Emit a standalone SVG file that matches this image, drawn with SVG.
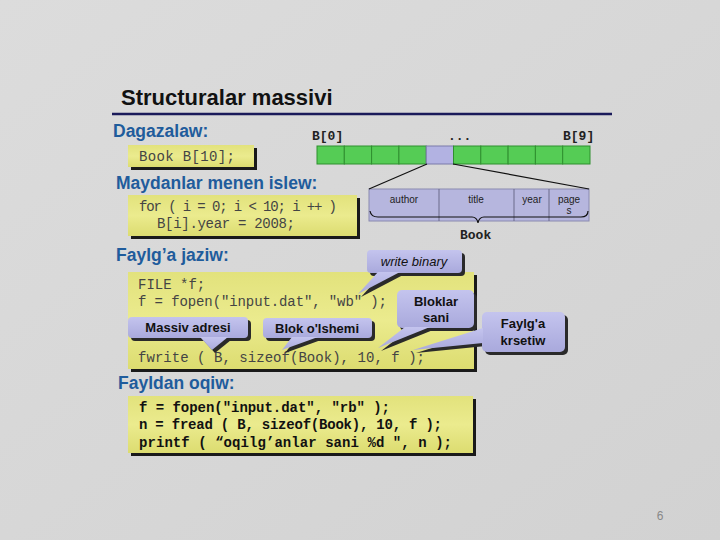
<svg xmlns="http://www.w3.org/2000/svg" width="720" height="540" viewBox="0 0 720 540">
<defs>
<linearGradient id="bg" x1="0" y1="0" x2="1" y2="1"><stop offset="0" stop-color="#dcdcdc"/><stop offset="1" stop-color="#d2d2d2"/></linearGradient>
<linearGradient id="yel" x1="0" y1="0" x2="0" y2="1"><stop offset="0" stop-color="#e2e27c"/><stop offset="0.5" stop-color="#ebeb8e"/><stop offset="1" stop-color="#dcdc70"/></linearGradient>
<linearGradient id="lav" x1="0" y1="0" x2="0" y2="1"><stop offset="0" stop-color="#c4c4ee"/><stop offset="1" stop-color="#a9a9dc"/></linearGradient>
<style>
.hd{font-family:"Liberation Sans",Arial,sans-serif;font-weight:bold;font-size:17.5px;fill:#1f5c9c}
.code{font-family:"Liberation Mono","Courier New",monospace;font-size:14px;fill:#444}
.codeb{font-family:"Liberation Mono","Courier New",monospace;font-size:14px;font-weight:bold;fill:#111}
.lbl{font-family:"Liberation Mono","Courier New",monospace;font-size:13px;font-weight:bold;fill:#222}
.fld{font-family:"Liberation Sans",Arial,sans-serif;font-size:10px;fill:#222;text-anchor:middle}
.co{font-family:"Liberation Sans",Arial,sans-serif;font-size:13px;font-weight:bold;fill:#111;text-anchor:middle}
.it{font-family:"Liberation Sans",Arial,sans-serif;font-size:13px;font-style:italic;fill:#111;text-anchor:middle}
.box{fill:url(#yel)}
.sh{fill:#1a1a1a}
.cl{fill:url(#lav)}
.cs{fill:#2a2a2a}
.g{fill:#55cc55;stroke:#2f8f2f;stroke-width:1}
</style>
</defs>
<rect width="720" height="540" fill="url(#bg)"/>
<g id="title">
<text x="121" y="105" font-family="'Liberation Sans',Arial,sans-serif" font-weight="bold" font-size="22" fill="#111">Structuralar massivi</text>
<line x1="112" y1="114" x2="612" y2="114" stroke="#1a1a5a" stroke-width="2.5"/>
</g>
<g id="headings">
<text class="hd" x="113" y="137">Dagazalaw:</text>
<text class="hd" x="116" y="189">Maydanlar menen islew:</text>
<text class="hd" x="116" y="261">Faylg’a jaziw:</text>
<text class="hd" x="118" y="389">Fayldan oqiw:</text>
</g>
<g id="box1">
<rect class="sh" x="131" y="148" width="126" height="22"/>
<rect class="box" x="128" y="145" width="126" height="22"/>
<text class="code" x="139" y="161" textLength="96" lengthAdjust="spacing">Book B[10];</text>
</g>
<g id="array">
<text class="lbl" x="312" y="140">B[0]</text>
<text class="lbl" x="448" y="140">...</text>
<text class="lbl" x="563" y="140">B[9]</text>
<rect class="g" x="317" y="146" width="27.3" height="18"/>
<rect class="g" x="344.3" y="146" width="27.3" height="18"/>
<rect class="g" x="371.6" y="146" width="27.3" height="18"/>
<rect class="g" x="398.9" y="146" width="27.3" height="18"/>
<rect x="426.2" y="146" width="27.3" height="18" fill="#b2b2e2" stroke="#7a7aaa"/>
<rect class="g" x="453.5" y="146" width="27.3" height="18"/>
<rect class="g" x="480.8" y="146" width="27.3" height="18"/>
<rect class="g" x="508.1" y="146" width="27.3" height="18"/>
<rect class="g" x="535.4" y="146" width="27.3" height="18"/>
<rect class="g" x="562.7" y="146" width="27.3" height="18"/>
</g>
<g id="struct">
<rect x="369" y="189" width="220" height="32" fill="#b6b6de" stroke="#8a8ab0"/>
<line x1="439" y1="189" x2="439" y2="221" stroke="#6a6a8a"/>
<line x1="514" y1="189" x2="514" y2="221" stroke="#6a6a8a"/>
<line x1="549" y1="189" x2="549" y2="221" stroke="#6a6a8a"/>
<text class="fld" x="404" y="203">author</text>
<text class="fld" x="476" y="203">title</text>
<text class="fld" x="532" y="203">year</text>
<text class="fld" x="569" y="203">page</text>
<text class="fld" x="569" y="214">s</text>
<path d="M370,211 Q371,217 378,217 L472,217 Q477,217 478,223 Q479,217 484,217 L581,217 Q588,217 588,211" fill="none" stroke="#111" stroke-width="1.2"/>
<text class="lbl" x="460" y="239">Book</text>
</g>
<g id="box2">
<rect class="sh" x="131" y="198" width="229" height="41"/>
<rect class="box" x="128" y="195" width="229" height="41"/>
<text class="code" x="139" y="211" textLength="198" lengthAdjust="spacing">for ( i = 0;  i &lt; 10;  i ++ )</text>
<text class="code" x="157" y="228" textLength="138" lengthAdjust="spacing">B[i].year = 2008;</text>
</g>
<g id="box3">
<rect class="sh" x="131" y="275" width="346" height="97"/>
<rect class="box" x="128" y="272" width="346" height="97"/>
<text class="code" x="138" y="289">FILE *f;</text>
<text class="code" x="138" y="306" textLength="249" lengthAdjust="spacing">f = fopen("input.dat", "wb" );</text>
<text class="code" x="138" y="362" textLength="287" lengthAdjust="spacing">fwrite ( B, sizeof(Book), 10, f );</text>
</g>
<g id="box4">
<rect class="sh" x="131" y="399" width="345" height="57"/>
<rect class="box" x="128" y="396" width="345" height="57"/>
<text class="codeb" x="139" y="412" textLength="251" lengthAdjust="spacing">f = fopen("input.dat", "rb" );</text>
<text class="codeb" x="139" y="429" textLength="303" lengthAdjust="spacing">n = fread ( B, sizeof(Book), 10, f );</text>
<text class="codeb" x="139" y="447" textLength="313" lengthAdjust="spacing">printf ( “oqilg’anlar sani %d ", n );</text>
</g>
<g id="connectors">
<line x1="427" y1="164" x2="369" y2="189" stroke="#111" stroke-width="1.2"/>
<line x1="453" y1="164" x2="589" y2="189" stroke="#111" stroke-width="1.2"/>
</g>
<g id="callout-write-binary">
<g transform="translate(3,3)" class="cs"><rect x="367" y="250" width="95" height="23" rx="4"/><polygon points="378,272 400,272 358,294"/></g>
<g class="cl"><rect x="367" y="250" width="95" height="23" rx="4"/><polygon points="378,272 400,272 358,294"/></g>
<text class="it" x="414" y="266">write binary</text>
</g>
<g id="callout-bloklar">
<g transform="translate(3,3)" class="cs"><rect x="397" y="290" width="77" height="38" rx="5"/><polygon points="405,327 430,327 378,348"/></g>
<g class="cl"><rect x="397" y="290" width="77" height="38" rx="5"/><polygon points="405,327 430,327 378,348"/></g>
<text class="co" x="436" y="306">Bloklar</text>
<text class="co" x="436" y="322">sani</text>
</g>
<g id="callout-faylga">
<g transform="translate(3,3)" class="cs"><rect x="482" y="312" width="83" height="40" rx="5"/><polygon points="483,328 483,343 413,350"/></g>
<g class="cl"><rect x="482" y="312" width="83" height="40" rx="5"/><polygon points="483,328 483,343 413,350"/></g>
<text class="co" x="523" y="328">Faylg'a</text>
<text class="co" x="523" y="345">krsetiw</text>
</g>
<g id="callout-massiv">
<g transform="translate(3,3)" class="cs"><rect x="128" y="317" width="120" height="21" rx="4"/><polygon points="200,337 228,337 212,350"/></g>
<g class="cl"><rect x="128" y="317" width="120" height="21" rx="4"/><polygon points="200,337 228,337 212,350"/></g>
<text class="co" x="188" y="332">Massiv adresi</text>
</g>
<g id="callout-blok">
<g transform="translate(3,3)" class="cs"><rect x="263" y="318" width="109" height="20" rx="4"/><polygon points="292,337 318,337 282,350"/></g>
<g class="cl"><rect x="263" y="318" width="109" height="20" rx="4"/><polygon points="292,337 318,337 282,350"/></g>
<text class="co" x="317" y="333">Blok o'lshemi</text>
</g>
<text x="660" y="520" font-family="'Liberation Sans',Arial,sans-serif" font-size="12" fill="#888" text-anchor="middle">6</text>
</svg>
